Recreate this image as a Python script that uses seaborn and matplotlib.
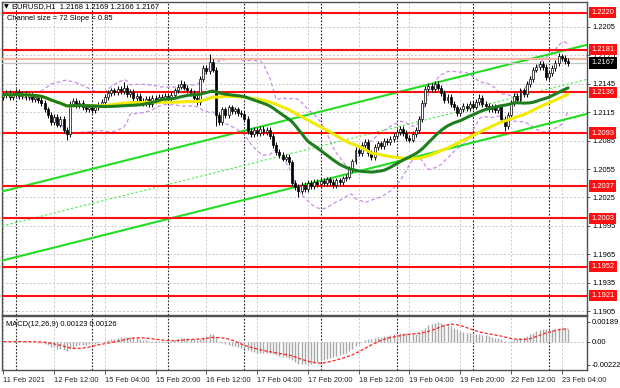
import numpy as np
import pandas as pd
import matplotlib
matplotlib.use("Agg")
import matplotlib.pyplot as plt
import seaborn as sns
from matplotlib.transforms import blended_transform_factory

# ---------------- data ----------------
closes = [
    1.2133, 1.2135, 1.2131, 1.2134, 1.2136, 1.2132, 1.2134, 1.2131, 1.2133, 1.2129,
    1.2131, 1.2128, 1.2125, 1.2118, 1.2112, 1.2105, 1.2110, 1.2102, 1.2108, 1.2096,
    1.2092, 1.2124, 1.2127, 1.2122, 1.2125, 1.2120, 1.2118, 1.2121, 1.2117, 1.2120,
    1.2123, 1.2126, 1.2131, 1.2135, 1.2138, 1.2136, 1.2140, 1.2137, 1.2141, 1.2134,
    1.2136, 1.2130, 1.2132, 1.2127, 1.2125, 1.2129, 1.2124, 1.2130, 1.2128, 1.2131,
    1.2129, 1.2132, 1.2130, 1.2133, 1.2138, 1.2142, 1.2145, 1.2141, 1.2138, 1.2135,
    1.2130, 1.2126, 1.2150, 1.2162, 1.2158, 1.2168, 1.2160, 1.2112, 1.2105, 1.2118,
    1.2112, 1.2120, 1.2116, 1.2118, 1.2114, 1.2113, 1.2108, 1.2095, 1.2092, 1.2096,
    1.2093, 1.2097, 1.2094, 1.2096, 1.2090, 1.2080, 1.2073, 1.2070, 1.2066, 1.2068,
    1.2062, 1.2040, 1.2036, 1.2032, 1.2038, 1.2034, 1.2040, 1.2037, 1.2041, 1.2039,
    1.2042, 1.2040, 1.2044, 1.2041, 1.2038, 1.2043, 1.2041, 1.2045, 1.2047, 1.2055,
    1.2063, 1.2075, 1.2072, 1.2080, 1.2084, 1.2072, 1.2068, 1.2078, 1.2082, 1.2079,
    1.2085, 1.2083, 1.2087, 1.2090, 1.2094, 1.2097, 1.2093, 1.2088, 1.2086, 1.2092,
    1.2096, 1.2108, 1.2125, 1.2140, 1.2143, 1.2139, 1.2145, 1.2141, 1.2135, 1.2128,
    1.2131, 1.2124, 1.2120, 1.2114, 1.2118, 1.2122, 1.2119, 1.2124, 1.2121, 1.2126,
    1.2130, 1.2124, 1.2122, 1.2118, 1.2121, 1.2117, 1.2120, 1.2108, 1.2100, 1.2112,
    1.2125, 1.2132, 1.2128, 1.2138, 1.2134, 1.2145, 1.2150, 1.2160, 1.2163, 1.2166,
    1.2163, 1.2152, 1.2156, 1.2162, 1.2167, 1.2174, 1.2172, 1.2169, 1.2167,
]
first_open = 1.2131
high_marks = {38: 1.2147, 56: 1.2149, 65: 1.2176, 136: 1.2148, 150: 1.2134, 175: 1.2178}
low_marks = {20: 1.2086, 67: 1.2100, 93: 1.2025, 158: 1.2095}
wick = 0.0003

levels = [1.2220, 1.2181, 1.2136, 1.2093, 1.2037, 1.2003, 1.1952, 1.1921]
last_price = 1.2167
ask_price = 1.2171
price_ticks = [1.1905, 1.1935, 1.1965, 1.1995, 1.2025, 1.2055, 1.2085,
               1.2115, 1.2145, 1.2175, 1.2205]
macd_ticks = [0.00189, 0.0, -0.00222]
macd_tick_labels = ["0.00189", "0.00", "-0.00222"]

time_ticks = [0, 16, 32, 48, 64, 80, 96, 112, 128, 144, 160, 176]
time_labels = ["11 Feb 2021", "12 Feb 12:00", "15 Feb 04:00", "15 Feb 20:00",
               "16 Feb 12:00", "17 Feb 04:00", "17 Feb 20:00", "18 Feb 12:00",
               "19 Feb 04:00", "19 Feb 20:00", "22 Feb 12:00", "23 Feb 04:00"]
day_starts = [4, 28, 52, 76, 100, 124, 148, 172]

# regression channel anchors (bar, price) for the upper line, width in price
chan_a = (0, 1.20316)
chan_b = (178, 1.21812)
chan_width = 0.0073

# ---------------- derived table ----------------
df = pd.DataFrame({"bar": np.arange(len(closes)), "close": closes})
df["open"] = [first_open] + closes[:-1]
top = df[["open", "close"]].max(axis=1)
bot = df[["open", "close"]].min(axis=1)
df["high"] = [high_marks.get(i, t + wick) for i, t in enumerate(top)]
df["low"] = [low_marks.get(i, b - wick) for i, b in enumerate(bot)]
df["ma30"] = df["close"].rolling(30, min_periods=1).mean()
df["ma50"] = df["close"].rolling(50, min_periods=1).mean()
mid = df["close"].rolling(20, min_periods=3).mean()
sd = df["close"].rolling(20, min_periods=3).std(ddof=0)
df["bb_up"] = mid + 2 * sd
df["bb_dn"] = mid - 2 * sd
ema12 = df["close"].ewm(span=12, adjust=False).mean()
ema26 = df["close"].ewm(span=26, adjust=False).mean()
df["macd"] = ema12 - ema26
df["signal"] = df["macd"].rolling(9, min_periods=1).mean()

# ---------------- figure ----------------
sns.set_theme(style="white")
plt.rcParams["font.family"] = ["Liberation Sans", "DejaVu Sans"]
plt.rcParams["axes.linewidth"] = 1.0

W, H = 620, 388
fig = plt.figure(figsize=(W / 100, H / 100), dpi=100)
ax = fig.add_axes([2 / W, 1 - 315 / H, 585 / W, 313 / H])
axm = fig.add_axes([2 / W, 1 - 370 / H, 585 / W, 54 / H], sharex=ax)

xmin, xmax = -0.41, 183.96
ax.set_xlim(xmin, xmax)
ax.set_ylim(1.19008, 1.22314)
axm.set_ylim(-0.00270, 0.00246)

grid_kw = dict(color="#C8C8C8", linestyle=(0, (2, 2)), linewidth=0.7)
for a in (ax, axm):
    a.set_xticks(time_ticks)
    a.grid(True, axis="x", **grid_kw)
    for d in day_starts:
        a.axvline(d, color="#202020", linestyle=(0, (1.5, 1.5)), linewidth=0.8, zorder=1)
    for s in a.spines.values():
        s.set_color("#505050")
        s.set_linewidth(1.0)
ax.set_yticks(price_ticks)
ax.grid(True, axis="y", **grid_kw)
axm.set_yticks(macd_ticks)
axm.set_yticklabels(macd_tick_labels)
axm.axhline(0, **grid_kw)

# channel
(x1, y1), (x2, y2) = chan_a, chan_b
ax.axline((x1, y1), (x2, y2), color="#22DD22", lw=1.5, zorder=4)
ax.axline((x1, y1 - chan_width), (x2, y2 - chan_width), color="#22DD22", lw=1.5, zorder=4)
ax.axline((x1, y1 - chan_width / 2), (x2, y2 - chan_width / 2), color="#44EE44",
          lw=0.8, linestyle=(0, (2, 2)), zorder=4)

# horizontal levels
for v in levels:
    ax.axhline(v, color="#FF1010", lw=1.5, zorder=5)
ax.axhline(ask_price, color="#F7B09A", lw=1.4, zorder=5)
ax.axhline(last_price, color="#C4C4C4", lw=0.9, zorder=5)

# Bollinger style bands
sns.lineplot(data=df, x="bar", y="bb_up", ax=ax, color="#C88EEA", lw=0.9,
             linestyle=(0, (3, 2)), zorder=3)
sns.lineplot(data=df, x="bar", y="bb_dn", ax=ax, color="#C88EEA", lw=0.9,
             linestyle=(0, (3, 2)), zorder=3)

# candles
up = df["close"] >= df["open"]
ax.vlines(df["bar"], df["low"], df["high"], color="black", lw=0.7, zorder=6)
ax.bar(df["bar"], (df["close"] - df["open"]).abs().clip(lower=0.00004), bottom=bot,
       width=0.62, color=np.where(up, "white", "black"), edgecolor="black",
       linewidth=0.5, zorder=7)

# moving averages
sns.lineplot(data=df, x="bar", y="ma50", ax=ax, color="#F2EA00", lw=2.2, zorder=8)
sns.lineplot(data=df, x="bar", y="ma30", ax=ax, color="#1E7E1E", lw=2.2, zorder=8)

# MACD
axm.vlines(df["bar"], 0, df["macd"], color="#A8A8A8", lw=1.0, zorder=3)
sns.lineplot(data=df, x="bar", y="signal", ax=axm, color="#FF2020", lw=0.9,
             linestyle=(0, (2.5, 1.5)), zorder=4)

# axes labels/ticks
fs = 5.4
for a in (ax, axm):
    a.set_xlabel("")
    a.set_ylabel("")
    a.yaxis.tick_right()
    a.tick_params(axis="y", which="both", right=True, length=2.5, width=0.6,
                  color="#404040", labelsize=fs, pad=1.2, labelcolor="black")
ax.tick_params(axis="x", bottom=False, labelbottom=False)
axm.tick_params(axis="x", bottom=True, length=3, width=0.6, color="#404040",
                labelsize=fs, pad=2)
axm.set_xticklabels(time_labels, ha="left")
ax.set_xlim(xmin, xmax)

# level labels on the right
tr = blended_transform_factory(ax.transAxes, ax.transData)
for v in levels:
    ax.text(1.0075, v, f"{v:.4f}", transform=tr, ha="left", va="center",
            fontsize=fs, color="white", clip_on=False, zorder=20,
            bbox=dict(boxstyle="square,pad=0.28", fc="#FF1010", ec="none"))
ax.text(1.0075, last_price, f"{last_price:.4f}", transform=tr, ha="left",
        va="center", fontsize=fs, color="white", clip_on=False, zorder=21,
        bbox=dict(boxstyle="square,pad=0.28", fc="black", ec="none"))

# header texts
fig.text(4 / W, 1 - 7 / H, "▼", fontsize=4.5, va="center", ha="left", color="black",
         family=["DejaVu Sans"])
fig.text(12 / W, 1 - 7 / H, "EURUSD,H1  1.2168 1.2169 1.2166 1.2167", fontsize=fs,
         va="center", ha="left", color="black")
fig.text(7 / W, 1 - 19 / H, "Channel size = 72 Slope = 0.85", fontsize=fs,
         va="center", ha="left", color="black")
fig.text(6 / W, 1 - 324 / H, "MACD(12,26,9) 0.00123 0.00126", fontsize=fs,
         va="center", ha="left", color="black")

fig.savefig("out.png", dpi=100)
